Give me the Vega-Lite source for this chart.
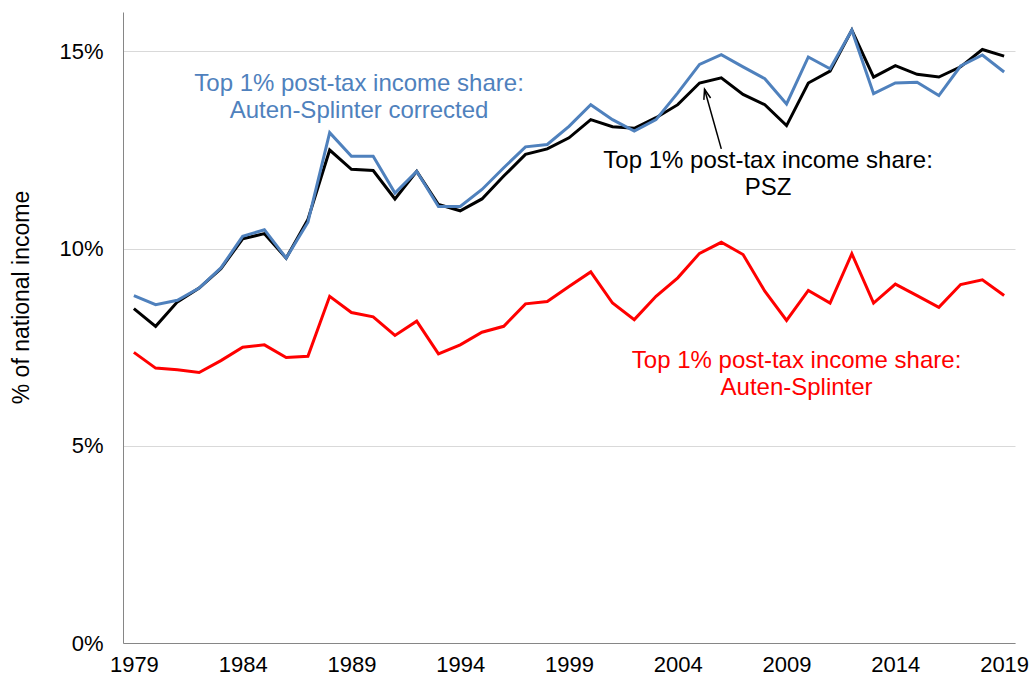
{
  "$schema": "https://vega.github.io/schema/vega-lite/v6.json",
  "width": 892,
  "height": 631,
  "autosize": "none",
  "padding": {"left": 123, "top": 12, "right": 15, "bottom": 41},
  "background": "white",
  "config": {"view": {"stroke": null}, "font": "Liberation Sans"},
  "datasets": {
    "shares": [
      {"year": 1979, "psz": 8.48, "as": 7.37, "asc": 8.81},
      {"year": 1980, "psz": 8.03, "as": 6.97, "asc": 8.58},
      {"year": 1981, "psz": 8.65, "as": 6.93, "asc": 8.69},
      {"year": 1982, "psz": 9.00, "as": 6.86, "asc": 9.00},
      {"year": 1983, "psz": 9.49, "as": 7.16, "asc": 9.51},
      {"year": 1984, "psz": 10.25, "as": 7.50, "asc": 10.31},
      {"year": 1985, "psz": 10.38, "as": 7.56, "asc": 10.48},
      {"year": 1986, "psz": 9.76, "as": 7.24, "asc": 9.76},
      {"year": 1987, "psz": 10.74, "as": 7.27, "asc": 10.67},
      {"year": 1988, "psz": 12.50, "as": 8.79, "asc": 12.94},
      {"year": 1989, "psz": 12.01, "as": 8.38, "asc": 12.34},
      {"year": 1990, "psz": 11.98, "as": 8.27, "asc": 12.34},
      {"year": 1991, "psz": 11.26, "as": 7.80, "asc": 11.41},
      {"year": 1992, "psz": 11.96, "as": 8.16, "asc": 11.96},
      {"year": 1993, "psz": 11.12, "as": 7.33, "asc": 11.07},
      {"year": 1994, "psz": 10.96, "as": 7.56, "asc": 11.07},
      {"year": 1995, "psz": 11.26, "as": 7.88, "asc": 11.50},
      {"year": 1996, "psz": 11.84, "as": 8.03, "asc": 12.05},
      {"year": 1997, "psz": 12.39, "as": 8.60, "asc": 12.58},
      {"year": 1998, "psz": 12.53, "as": 8.66, "asc": 12.64},
      {"year": 1999, "psz": 12.81, "as": 9.04, "asc": 13.10},
      {"year": 2000, "psz": 13.27, "as": 9.41, "asc": 13.65},
      {"year": 2001, "psz": 13.09, "as": 8.62, "asc": 13.27},
      {"year": 2002, "psz": 13.05, "as": 8.20, "asc": 12.98},
      {"year": 2003, "psz": 13.32, "as": 8.79, "asc": 13.27},
      {"year": 2004, "psz": 13.65, "as": 9.26, "asc": 13.95},
      {"year": 2005, "psz": 14.20, "as": 9.88, "asc": 14.67},
      {"year": 2006, "psz": 14.33, "as": 10.16, "asc": 14.92},
      {"year": 2007, "psz": 13.91, "as": 9.85, "asc": 14.61},
      {"year": 2008, "psz": 13.65, "as": 8.92, "asc": 14.31},
      {"year": 2009, "psz": 13.12, "as": 8.18, "asc": 13.67},
      {"year": 2010, "psz": 14.20, "as": 8.94, "asc": 14.86},
      {"year": 2011, "psz": 14.50, "as": 8.62, "asc": 14.56},
      {"year": 2012, "psz": 15.54, "as": 9.87, "asc": 15.54},
      {"year": 2013, "psz": 14.35, "as": 8.62, "asc": 13.93},
      {"year": 2014, "psz": 14.64, "as": 9.10, "asc": 14.20},
      {"year": 2015, "psz": 14.42, "as": 8.81, "asc": 14.22},
      {"year": 2016, "psz": 14.35, "as": 8.51, "asc": 13.88},
      {"year": 2017, "psz": 14.61, "as": 9.09, "asc": 14.63},
      {"year": 2018, "psz": 15.05, "as": 9.21, "asc": 14.91},
      {"year": 2019, "psz": 14.88, "as": 8.81, "asc": 14.48}
    ],
    "labels": [
      {"year": 1989.35, "value": 14.0, "series": "ASC", "text": "Top 1% post-tax income share:"},
      {"year": 1989.35, "value": 13.32, "series": "ASC", "text": "Auten-Splinter corrected"},
      {"year": 2008.15, "value": 12.05, "series": "PSZ", "text": "Top 1% post-tax income share:"},
      {"year": 2008.15, "value": 11.37, "series": "PSZ", "text": "PSZ"},
      {"year": 2009.46, "value": 6.97, "series": "AS", "text": "Top 1% post-tax income share:"},
      {"year": 2009.46, "value": 6.29, "series": "AS", "text": "Auten-Splinter"}
    ],
    "arrow": [
      {"year": 2006.0, "value": 12.53, "year2": 2005.23, "value2": 14.04}
    ]
  },
  "layer": [
    {
      "data": {"name": "shares"},
      "mark": {"type": "line", "color": "#ff0000", "strokeWidth": 3},
      "encoding": {
        "x": {
          "field": "year", "type": "quantitative",
          "scale": {"domain": [1978.5, 2019.5], "nice": false, "zero": false},
          "axis": {
            "values": [1979, 1984, 1989, 1994, 1999, 2004, 2009, 2014, 2019],
            "format": "d", "grid": false, "ticks": false,
            "domainColor": "#868686", "domainWidth": 1,
            "labelFontSize": 22, "labelColor": "#000000", "labelPadding": 11,
            "title": null
          }
        },
        "y": {
          "field": "as", "type": "quantitative",
          "scale": {"domain": [0, 16], "nice": false},
          "axis": {
            "values": [0, 5, 10, 15],
            "labelExpr": "datum.value + '%'",
            "grid": true, "gridColor": "#d9d9d9", "gridWidth": 1,
            "ticks": false,
            "domainColor": "#868686", "domainWidth": 1,
            "labelFontSize": 22, "labelColor": "#000000", "labelPadding": 20,
            "title": "% of national income",
            "titleFontSize": 23, "titleFontWeight": "normal", "titleColor": "#000000",
            "titlePadding": 25, "titleY": 285
          }
        }
      }
    },
    {
      "data": {"name": "shares"},
      "mark": {"type": "line", "color": "#000000", "strokeWidth": 3},
      "encoding": {
        "x": {"field": "year", "type": "quantitative"},
        "y": {"field": "psz", "type": "quantitative"}
      }
    },
    {
      "data": {"name": "shares"},
      "mark": {"type": "line", "color": "#4f81bd", "strokeWidth": 3},
      "encoding": {
        "x": {"field": "year", "type": "quantitative"},
        "y": {"field": "asc", "type": "quantitative"}
      }
    },
    {
      "data": {"name": "arrow"},
      "mark": {"type": "rule", "color": "#000000", "strokeWidth": 1.5},
      "encoding": {
        "x": {"field": "year", "type": "quantitative"},
        "y": {"field": "value", "type": "quantitative"},
        "x2": {"field": "year2"},
        "y2": {"field": "value2"}
      }
    },
    {
      "data": {"name": "arrow"},
      "mark": {
        "type": "point", "shape": "M -0.7 2 L 0 0 L 0.7 2", "filled": false,
        "stroke": "#000000", "strokeWidth": 1.5, "size": 100, "angle": 344.4, "opacity": 1
      },
      "encoding": {
        "x": {"field": "year2", "type": "quantitative"},
        "y": {"field": "value2", "type": "quantitative"}
      }
    },
    {
      "data": {"name": "labels"},
      "mark": {"type": "text", "fontSize": 24, "align": "center", "baseline": "alphabetic"},
      "encoding": {
        "x": {"field": "year", "type": "quantitative"},
        "y": {"field": "value", "type": "quantitative"},
        "text": {"field": "text"},
        "color": {
          "field": "series", "type": "nominal", "legend": null,
          "scale": {"domain": ["PSZ", "AS", "ASC"], "range": ["#000000", "#ff0000", "#4f81bd"]}
        }
      }
    }
  ]
}
